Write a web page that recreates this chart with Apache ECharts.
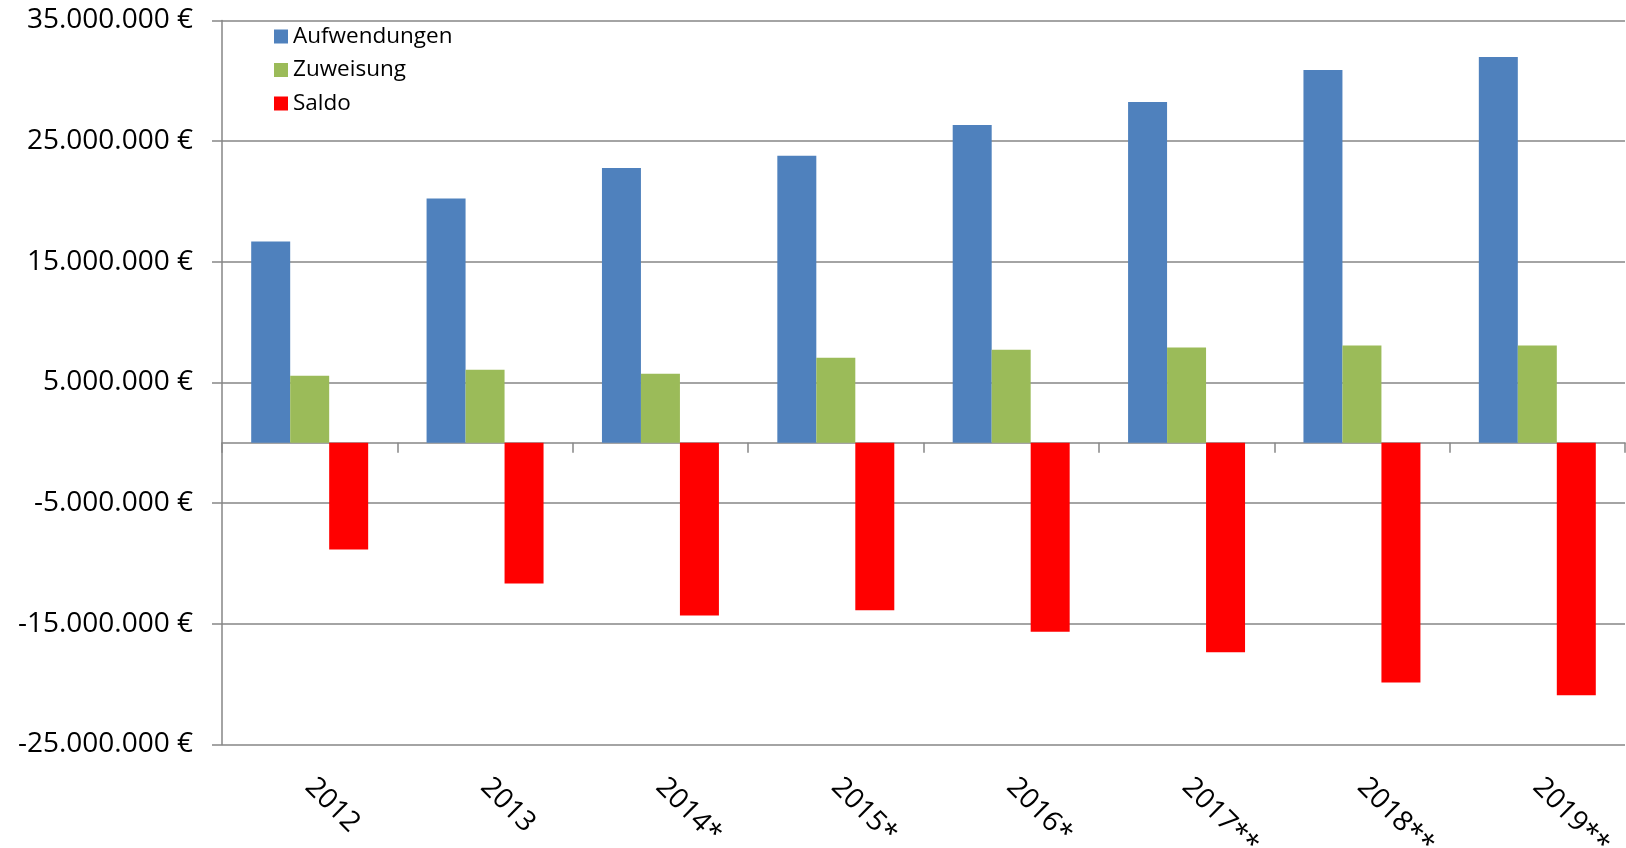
<!DOCTYPE html>
<html>
<head>
<meta charset="utf-8">
<script src="https://cdn.jsdelivr.net/npm/echarts/dist/echarts.min.js"></script>
<style>
  html, body { margin: 0; padding: 0; background: #fff; }
  #chart { width: 1626px; height: 848px; }
</style>
</head>
<body>
<div id="chart"></div>
<script>
// Jahre (Kategorien)
const years = ['2012', '2013', '2014*', '2015*', '2016*', '2017**', '2018**', '2019**'];

// Werte in Euro
const aufwendungen = [16680000, 20240000, 22780000, 23800000, 26350000, 28250000, 30900000, 31980000];
const zuweisung = [5550000, 6050000, 5720000, 7050000, 7720000, 7900000, 8060000, 8060000];
const saldo = [-8840000, -11660000, -14310000, -13870000, -15660000, -17350000, -19860000, -20910000];

// y-Achse
const yMin = -25000000;
const yMax = 35000000;
const yStep = 10000000;

const FONT = '"Open Sans", "Noto Sans", sans-serif';
const GRID_GREY = '#868686';

function euro(v) {
  const neg = v < 0;
  const s = Math.abs(Math.round(v)).toString().replace(/\B(?=(\d{3})+(?!\d))/g, '.');
  return (neg ? '-' : '') + s + ' €';
}

const myChart = echarts.init(document.getElementById('chart'));

const option = {
  animation: false,
  backgroundColor: '#ffffff',
  textStyle: { fontFamily: FONT },
  grid: {
    left: 222,
    right: 1,
    top: 20.5,
    bottom: 103.5,
    containLabel: false,
    outerBoundsMode: 'none'
  },
  legend: {
    orient: 'vertical',
    left: 269,
    top: 20,
    icon: 'rect',
    itemWidth: 14,
    itemHeight: 14,
    itemGap: 10.5,
    textStyle: {
      fontFamily: FONT,
      fontSize: 22.5,
      lineHeight: 22,
      color: '#000'
    },
    data: ['Aufwendungen', 'Zuweisung', 'Saldo']
  },
  xAxis: [
    {
      // Nulllinie mit Strichen zwischen den Kategorien
      type: 'category',
      data: years,
      position: 'bottom',
      axisLine: { show: true, onZero: true, lineStyle: { color: GRID_GREY, width: 1.5 } },
      axisTick: { show: true, length: 10, lineStyle: { color: GRID_GREY, width: 1.5 } },
      axisLabel: { show: false },
      splitLine: { show: false }
    },
    {
      // Beschriftung unten
      type: 'category',
      data: years,
      position: 'bottom',
      axisLine: { show: false, onZero: false },
      axisTick: { show: false },
      splitLine: { show: false },
      axisLabel: {
        show: true,
        interval: 0,
        rotate: -45,
        align: 'left',
        verticalAlign: 'middle',
        margin: 38,
        fontFamily: FONT,
        fontSize: 28,
        color: '#000'
      }
    }
  ],
  yAxis: {
    type: 'value',
    min: yMin,
    max: yMax,
    interval: yStep,
    axisLine: { show: true, lineStyle: { color: GRID_GREY, width: 1.5 } },
    axisTick: { show: true, length: 10, lineStyle: { color: GRID_GREY, width: 1.5 } },
    splitLine: { show: true, lineStyle: { color: GRID_GREY, width: 1.5 } },
    axisLabel: {
      margin: 29,
      fontFamily: FONT,
      fontSize: 28,
      color: '#000',
      formatter: euro
    }
  },
  series: [
    {
      name: 'Aufwendungen',
      type: 'bar',
      xAxisIndex: 0,
      data: aufwendungen,
      barGap: '0%',
      barCategoryGap: '33.3%',
      itemStyle: { color: '#4F81BD' }
    },
    {
      name: 'Zuweisung',
      type: 'bar',
      xAxisIndex: 0,
      data: zuweisung,
      barGap: '0%',
      barCategoryGap: '33.3%',
      itemStyle: { color: '#9BBB59' }
    },
    {
      name: 'Saldo',
      type: 'bar',
      xAxisIndex: 0,
      data: saldo,
      barGap: '0%',
      barCategoryGap: '33.3%',
      itemStyle: { color: '#FF0000' }
    }
  ]
};

myChart.setOption(option);
</script>
</body>
</html>
